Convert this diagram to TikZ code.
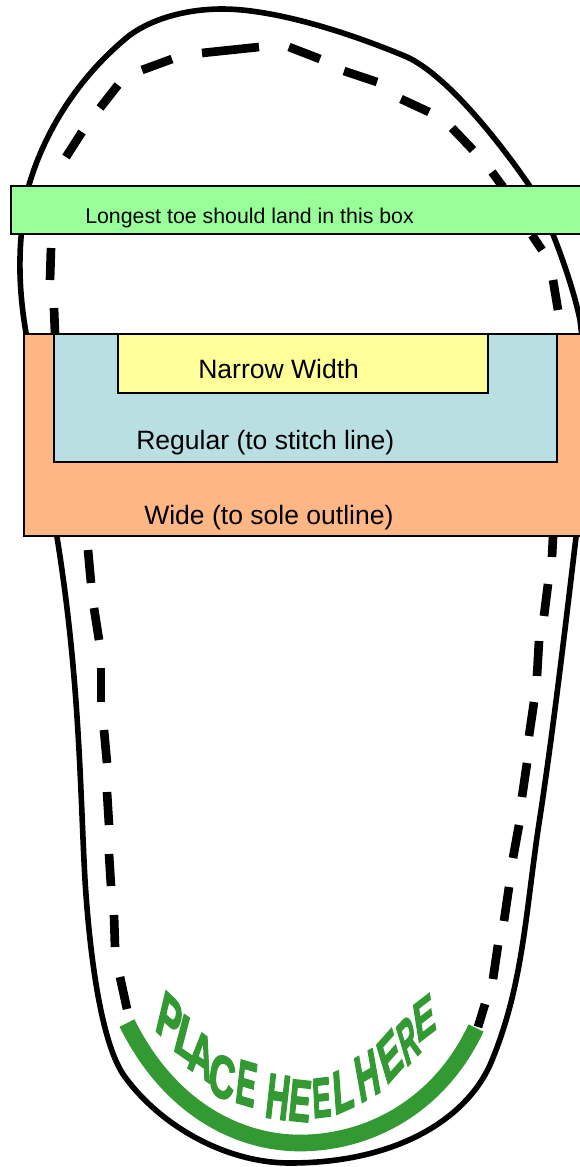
\documentclass[tikz,border=0pt]{standalone}
\usepackage{fontspec}
\setmainfont{Liberation Sans}
\newfontfamily\heelfont[FakeBold=3]{Liberation Sans Bold}
\definecolor{toegreen}{HTML}{99FF99}
\definecolor{wideorange}{HTML}{FFB685}
\definecolor{regularblue}{HTML}{B9DFE2}
\definecolor{narrowyellow}{HTML}{FFFF99}
\definecolor{heelgreen}{HTML}{339933}

\begin{document}
\begin{tikzpicture}[x=0.75pt, y=-0.75pt]
\tikzstyle{sole}=[draw=black, line width=4.2pt]
\tikzstyle{stitch}=[draw=black, line width=6.5pt]
\tikzstyle{sizebox}=[draw=black, line width=1.1pt]
\tikzstyle{bigtext}=[anchor=base west, inner sep=0pt, font=\fontsize{19.9}{22}\selectfont]
\tikzstyle{heelletter}=[anchor=base west, inner sep=0pt, transform shape, text=heelgreen, font=\heelfont\fontsize{10}{10}\selectfont]

\useasboundingbox (0,0) rectangle (580,1167);
\clip (0,0) rectangle (580,1167);

% sole outline
\draw[sole] (222,9) .. controls (275,9) and (350,33) .. (407,57)
	.. controls (450,77) and (505,150) .. (529,185)
	.. controls (545,208) and (572,280) .. (580,320)
	.. controls (590,400) and (585,460) .. (576,537)
	.. controls (565,630) and (552,740) .. (538,830)
	.. controls (525,920) and (522,990) .. (490,1065)
	.. controls (465,1120) and (395,1163) .. (290,1163)
	.. controls (225,1163) and (160,1125) .. (125,1077)
	.. controls (102,1046) and (90,960) .. (85,880)
	.. controls (80,790) and (80,680) .. (57,537)
	.. controls (45,450) and (35,400) .. (26,333)
	.. controls (17,280) and (18,235) .. (29,185)
	.. controls (45,130) and (80,75) .. (130,35)
	.. controls (155,17) and (190,9) .. (222,9) -- cycle;

% stitch line
\foreach \xa/\ya/\xb/\yb in {
66/157/82/132, 100/108/118/85, 142/70/172/59, 202/53/259/47, 289/47/320/59,
344/71/377/82, 401/99/429/112, 452/128/473/150, 492/172/503/187, 532/235/542/250,
553/280/558/310, 51/248/50/280, 54/308/55/334, 88/550/91/583, 94/608/99/640,
101/668/101/702, 104/730/107/763, 107/792/109/825, 109/854/111/886, 114/915/115/947,
120/977/127/1009, 553/537/552/557, 548/584/544/616, 539/641/537/676, 534/702/529/736,
527/763/522/797, 519/825/513/858, 509/887/504/921, 498/945/493/979, 485/1004/478/1027}
	\draw[stitch] (\xa,\ya) -- (\xb,\yb);

% size boxes
\draw[sizebox, fill=toegreen] (11,186) rectangle (590,234);
\draw[sizebox, fill=wideorange] (24,334) rectangle (590,536);
\draw[sizebox, fill=regularblue] (54,334) rectangle (557,462);
\draw[sizebox, fill=narrowyellow] (118,334) rectangle (488,393);

\node[anchor=base west, inner sep=0pt, font=\fontsize{16}{18}\selectfont] (toe) at (85,223) {Longest toe should land in this box};
\node[bigtext] (narrow) at (198,378) {Narrow Width};
\node[bigtext] (regular) at (136,449) {Regular (to stitch line)};
\node[bigtext] (wide) at (144,524) {Wide (to sole outline)};

% heel mark
\draw[heelgreen, line width=12.5pt] (127,1023) .. controls (170,1110) and (240,1143) .. (300,1143)
	.. controls (370,1143) and (440,1105) .. (476,1028);

% letter, foot, baseline vector, upright vector, letter width in em
\foreach \ch/\bx/\by/\wx/\wy/\ux/\uy/\em in {
P/155/1030/18/17/10/-42/.667, L/173/1050/19/13/10/-38/.611, A/188/1068/20/14/6/-42/.722,
C/208/1093/22/8/5/-42/.722, E/235/1102/17/5/5/-44/.667, H/265/1117/20/3/5/-45/.722,
E/288/1120/19/2/4/-42/.667, E/314/1118/16/-2/-2/-40/.667, L/335/1115/18/-8/-3/-43/.611,
H/361/1103/19/-11/-8/-45/.722, E/387/1085/16/-18/-12/-40/.667, R/407/1067/13/-14/-12/-40/.722,
E/418/1043/17/-13/-6/-38/.667} {
	\pgfmathsetmacro{\ma}{1.16*\wx*.075/\em}
	\pgfmathsetmacro{\mb}{-1.16*\wy*.075/\em}
	\pgfmathsetmacro{\mc}{\ux*.75/7.16}
	\pgfmathsetmacro{\md}{-\uy*.75/7.16}
	\node[heelletter, shift={(\bx-.08*\wx,\by-.08*\wy)}, cm={\ma,\mb,\mc,\md,(0,0)}] at (0,0) {\ch};
}

\end{tikzpicture}
\end{document}
